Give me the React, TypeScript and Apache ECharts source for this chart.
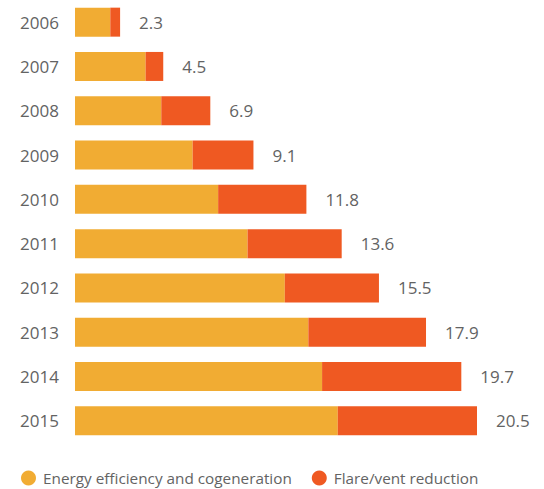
import React, { useEffect, useRef } from "react";
import * as echarts from "echarts";

const years = ["2006", "2007", "2008", "2009", "2010", "2011", "2012", "2013", "2014", "2015"];
const energyEfficiency = [1.8, 3.6, 4.4, 6.0, 7.3, 8.8, 10.7, 11.9, 12.6, 13.4];
const flareVent = [0.5, 0.9, 2.5, 3.1, 4.5, 4.8, 4.8, 6.0, 7.1, 7.1];
const totals = ["2.3", "4.5", "6.9", "9.1", "11.8", "13.6", "15.5", "17.9", "19.7", "20.5"];

const FONT = "'Open Sans', 'Noto Sans', sans-serif";
const TEXT = "#636363";

export default function App() {
  const ref = useRef<HTMLDivElement>(null);
  useEffect(() => {
    if (!ref.current) return;
    const chart = echarts.init(ref.current, null, { renderer: "svg" });
    chart.setOption({
      animation: false,
      textStyle: { fontFamily: FONT },
      legend: {
        left: 21,
        top: 470,
        height: 16,
        padding: 0,
        icon: "circle",
        itemWidth: 15,
        itemHeight: 15,
        itemGap: 20,
        textStyle: {
          fontFamily: FONT,
          fontSize: 15.3,
          color: TEXT,
          lineHeight: 16,
          padding: [0, 0, 0, 2],
        },
        data: ["Energy efficiency and cogeneration", "Flare/vent reduction"],
      },
      grid: { left: 75, right: 67, top: 0, bottom: 46, containLabel: false },
      xAxis: {
        type: "value",
        min: 0,
        max: 20.5,
        show: false,
      },
      yAxis: {
        type: "category",
        data: years,
        inverse: true,
        axisLine: { show: false },
        axisTick: { show: false },
        axisLabel: { margin: 16, fontSize: 17, color: TEXT, fontFamily: FONT },
      },
      series: [
        {
          name: "Energy efficiency and cogeneration",
          type: "bar",
          stack: "total",
          data: energyEfficiency,
          barWidth: 29,
          itemStyle: { color: "#F1AC33" },
        },
        {
          name: "Flare/vent reduction",
          type: "bar",
          stack: "total",
          data: flareVent,
          barWidth: 29,
          itemStyle: { color: "#EF5922" },
          label: {
            show: true,
            position: "right",
            distance: 19,
            fontSize: 17,
            color: TEXT,
            fontFamily: FONT,
            formatter: (p: any) => totals[p.dataIndex],
          },
        },
      ],
    });
    return () => chart.dispose();
  }, []);
  return (
    <div
      ref={ref}
      style={{ position: "fixed", left: 0, top: 0, width: 544, height: 489, background: "#fff" }}
    />
  );
}
